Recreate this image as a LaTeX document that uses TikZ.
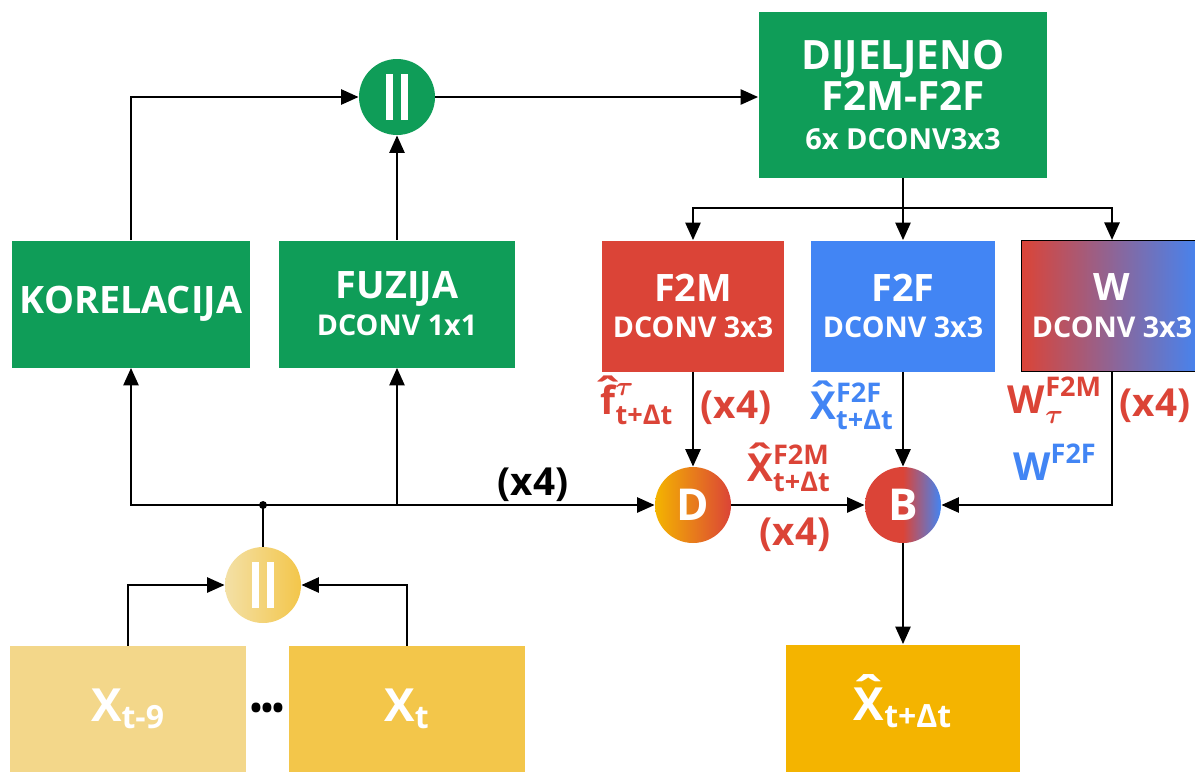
\documentclass[tikz,border=0pt]{standalone}
\usepackage{fix-cm}
\usepackage{amsmath}
\usepackage{fontspec}
\setmainfont{Open Sans}
\usetikzlibrary{arrows.meta}

\definecolor{ggreen}{HTML}{0F9D58}
\definecolor{gred}{HTML}{DB4437}
\definecolor{gblue}{HTML}{4285F4}
\definecolor{gyellow}{HTML}{F4B400}
\definecolor{paleA}{HTML}{F3D78A}
\definecolor{paleB}{HTML}{F3C64A}
\definecolor{paleC}{HTML}{F3E0A6}

\pgfdeclarehorizontalshading{blendrb}{100bp}{color(0bp)=(gred); color(50bp)=(gred); color(75bp)=(gblue); color(100bp)=(gblue)}

\newcommand{\bars}{\rule{0.13cm}{0.92cm}\hspace{0.17cm}\rule{0.13cm}{0.92cm}}
\newcommand{\hatted}[1]{\leavevmode\ooalign{#1\cr\hidewidth\raisebox{0.24em}{\scalebox{1.25}[1]{ˆ}}\hidewidth\cr}}

\begin{document}
\begin{tikzpicture}[x=0.02cm, y=-0.02cm,
    box/.style={rectangle, inner sep=0pt, text=white, align=center,
        font=\bfseries\fontsize{21.5}{24}\selectfont},
    opnode/.style={circle, minimum size=1.52cm, inner sep=0pt, text=white,
        font=\bfseries\fontsize{25}{26}\selectfont},
    arr/.style={line width=1.6pt, -{Triangle[length=10pt,width=8.5pt]}},
    wire/.style={line width=1.6pt},
    lbl/.style={inner sep=0pt, font=\bfseries\fontsize{22}{24}\selectfont}]
    \clip (0,0) rectangle (1195,772);

    % Input frames and their concatenation
    \node[box, fill=paleA, minimum width=4.72cm, minimum height=2.52cm] (xa) at (128,709)
        {\fontsize{26}{28}\selectfont X$_{\text{t-9}}$};
    \node[box, fill=paleB, minimum width=4.72cm, minimum height=2.52cm] (xb) at (407,709)
        {\fontsize{26}{28}\selectfont X$_{\text{t}}$};
    \node[font=\bfseries\fontsize{18}{18}\selectfont, inner sep=0pt] (dots) at (267,711) {•\kern-0.5pt•\kern-0.5pt•};
    \node[opnode, left color=paleC, right color=paleB] (catB) at (263,585) {\bars};
    \node[circle, fill, inner sep=1.6pt] (jn) at (263,505) {};

    % Correlation and fusion branch
    \node[box, fill=ggreen, minimum width=4.76cm, minimum height=2.54cm] (kor) at (131,304) {KORELACIJA};
    \node[box, fill=ggreen, minimum width=4.72cm, minimum height=2.54cm] (fuz) at (397,304)
        {FUZIJA\\[-3pt]{\fontsize{16.3}{18}\selectfont DCONV 1x1}};
    \node[opnode, fill=ggreen] (catT) at (397,97) {\bars};
    \node[box, fill=ggreen, minimum width=5.78cm, minimum height=3.32cm, font=\bfseries\fontsize{23}{26}\selectfont] (dij) at (903,95)
        {DIJELJENO\\[-3pt]F2M-F2F\\[-4pt]{\fontsize{16.5}{18}\selectfont 6x DCONV3x3}};

    % Three heads
    \node[box, fill=gred, minimum width=3.66cm, minimum height=2.62cm] (f2m) at (693,306)
        {F2M\\[-3pt]{\fontsize{16.3}{18}\selectfont DCONV 3x3}};
    \node[box, fill=gblue, minimum width=3.68cm, minimum height=2.62cm] (f2f) at (903,306)
        {F2F\\[-3pt]{\fontsize{16.3}{18}\selectfont DCONV 3x3}};
    \node[box, left color=gred, right color=gblue, draw=black, line width=0.6pt,
        minimum width=3.64cm, minimum height=2.62cm] (wbox) at (1112,306)
        {W\\[-3pt]{\fontsize{16.3}{18}\selectfont DCONV 3x3}};

    % Warping and blending
    \node[opnode, left color=gyellow, right color=gred] (dnode) at (693,505) {D};
    \node[opnode, shading=blendrb] (bnode) at (903,505) {B};
    \node[box, fill=gyellow, minimum width=4.7cm, minimum height=2.54cm] (out) at (903,708)
        {\fontsize{26}{28}\selectfont $\text{\hatted{X}}_{\text{t+Δt}}$};

    % Connectors
    \draw[arr] (xa.north) |- (catB.west);
    \draw[arr] (xb.north) |- (catB.east);
    \draw[wire] (catB.north) -- (jn.center);
    \draw[arr] (jn.center) -| (kor.south);
    \draw[arr] (jn.center -| fuz.south) -- (fuz.south);
    \draw[arr] (jn.center) -- (dnode.west);
    \draw[arr] (kor.north) |- (catT.west);
    \draw[arr] (fuz.north) -- (catT.south);
    \draw[arr] (catT.east) -- (dij.west |- catT.east);
    \coordinate (spl) at (903,208);
    \draw[wire] (dij.south) -- (spl);
    \draw[arr] (spl) -| (f2m.north);
    \draw[arr] (spl) -- (f2f.north);
    \draw[arr] (spl) -| (wbox.north);
    \draw[arr] (f2m.south) -- (dnode.north);
    \draw[arr] (f2f.south) -- (bnode.north);
    \draw[arr] (wbox.south) |- (bnode.east);
    \draw[arr] (dnode.east) -- (bnode.west);
    \draw[arr] (bnode.south) -- (out.north);

    % Labels on the flows
    \node[lbl] (n1) at (533,485) {(x4)};
    \node[lbl, text=gred] (fhat) at (637,404) {$\text{\hatted{f}}^{\boldsymbol{\tau}}_{\text{t+Δt}}$};
    \node[lbl, text=gred] (n2) at (736,408) {(x4)};
    \node[lbl, text=gred] (xm) at (789,468) {$\text{\hatted{X}}^{\text{F2M}}_{\text{t+Δt}}$};
    \node[lbl, text=gred] (n3) at (795,535) {(x4)};
    \node[lbl, text=gblue] (xf) at (852,406) {$\text{\hatted{X}}^{\text{F2F}}_{\text{t+Δt}}$};
    \node[lbl, text=gred] (wm) at (1055,400) {$\text{W}^{\text{F2M}}_{\boldsymbol{\tau}}$};
    \node[lbl, text=gblue] (wf) at (1055,462) {$\text{W}^{\text{F2F}}$};
    \node[lbl, text=gred] (n4) at (1155,406) {(x4)};
\end{tikzpicture}
\end{document}
